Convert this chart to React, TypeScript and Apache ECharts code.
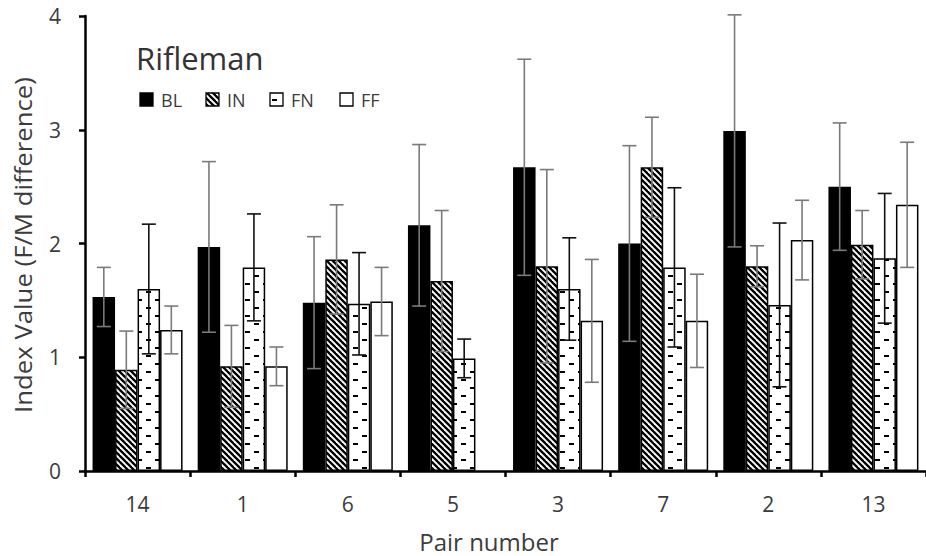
import React, { useEffect, useRef } from "react";
import * as echarts from "echarts";

// Pair numbers along the x axis
const categories = ["14", "1", "6", "5", "3", "7", "2", "13"];
const seriesNames = ["BL", "IN", "FN", "FF"];

// Mean index values per condition
const blValues = [1.53, 1.97, 1.48, 2.16, 2.67, 2.0, 2.99, 2.5];
const inValues = [0.89, 0.92, 1.86, 1.67, 1.8, 2.67, 1.8, 1.99];
const fnValues = [1.6, 1.79, 1.47, 0.99, 1.6, 1.79, 1.46, 1.87];
const ffValues = [1.24, 0.92, 1.49, null, 1.32, 1.32, 2.03, 2.34];

// Error bar half-lengths
const blErrors = [0.26, 0.75, 0.58, 0.71, 0.95, 0.86, 1.02, 0.56];
const inErrors = [0.34, 0.36, 0.48, 0.62, 0.85, 0.44, 0.18, 0.3];
const fnErrors = [0.57, 0.47, 0.45, 0.17, 0.45, 0.7, 0.72, 0.57];
const ffErrors = [0.21, 0.17, 0.3, null, 0.54, 0.41, 0.35, 0.55];

const yTicks = [0, 1, 2, 3, 4];

const TEXT = "#3c3c3c";
const BAR_W = 22.5;

function makeHatch() {
  const c = document.createElement("canvas");
  c.width = 6;
  c.height = 6;
  const g = c.getContext("2d")!;
  g.fillStyle = "#fff";
  g.fillRect(0, 0, 6, 6);
  g.strokeStyle = "#000";
  g.lineWidth = 2.3;
  for (let k = -1; k <= 1; k++) {
    g.beginPath();
    g.moveTo(k * 6 - 1, -1);
    g.lineTo(k * 6 + 7, 7);
    g.stroke();
  }
  return { image: c, repeat: "repeat", imageWidth: 6, imageHeight: 6 };
}

function makeDashes() {
  const c = document.createElement("canvas");
  c.width = 18;
  c.height = 16;
  const g = c.getContext("2d")!;
  g.fillStyle = "#fff";
  g.fillRect(0, 0, 18, 16);
  g.fillStyle = "#000";
  g.fillRect(2, 3, 5, 2);
  g.fillRect(11, 11, 5, 2);
  return { image: c, repeat: "repeat", imageWidth: 18, imageHeight: 16 };
}

export default function App() {
  const ref = useRef<HTMLDivElement>(null);

  useEffect(() => {
    if (!ref.current) return;
    const chart = echarts.init(ref.current, null, { renderer: "svg" });

    const hatch = makeHatch();
    const dashes = makeDashes();
    const fills: any[] = ["#000", hatch, dashes, "#fff"];
    const values = [blValues, inValues, fnValues, ffValues];
    const errors = [blErrors, inErrors, fnErrors, ffErrors];
    const errColors = ["#7a7a7a", "#7a7a7a", "#111", "#7a7a7a"];

    const barSeries = seriesNames.map((name, s) => ({
      name,
      type: "bar",
      data: values[s].map((v) => (v == null ? "-" : v)),
      barWidth: BAR_W,
      barGap: "0%",
      itemStyle: { color: fills[s], borderColor: "#000", borderWidth: 1.5 },
      z: 2,
    }));

    const errSeries = seriesNames.map((name, s) => {
      const data: number[][] = [];
      values[s].forEach((v, i) => {
        const e = errors[s][i];
        if (v != null && e != null) data.push([i, v - e, v + e]);
      });
      const offset = (s - 1.5) * BAR_W;
      return {
        name: name + " error",
        type: "custom",
        data,
        encode: { x: 0, y: [1, 2] },
        z: 5,
        renderItem: (_p: any, api: any) => {
          const idx = api.value(0);
          const lo = api.coord([idx, api.value(1)]);
          const hi = api.coord([idx, api.value(2)]);
          const x = lo[0] + offset;
          const style = { stroke: errColors[s], lineWidth: 1.6 };
          return {
            type: "group",
            children: [
              { type: "line", shape: { x1: x, y1: hi[1], x2: x, y2: lo[1] }, style },
              { type: "line", shape: { x1: x - 7, y1: hi[1], x2: x + 7, y2: hi[1] }, style },
              { type: "line", shape: { x1: x - 7, y1: lo[1], x2: x + 7, y2: lo[1] }, style },
            ],
          };
        },
      };
    });

    // Legend row under the title
    const legendIconX = [140, 206, 270, 340];
    const legendChildren: any[] = [];
    seriesNames.forEach((name, s) => {
      legendChildren.push({
        type: "rect",
        shape: { x: legendIconX[s], y: 93, width: 13, height: 13 },
        style: { fill: fills[s], stroke: "#000", lineWidth: 1.3 },
      });
      legendChildren.push({
        type: "text",
        style: {
          x: legendIconX[s] + 21,
          y: 100,
          text: name,
          fill: TEXT,
          font: '18px "Open Sans"',
          textVerticalAlign: "middle",
        },
      });
    });

    chart.setOption({
      animation: false,
      backgroundColor: "#fff",
      grid: { left: 85, top: 16, width: 845, height: 455 },
      xAxis: {
        type: "category",
        data: categories,
        boundaryGap: true,
        axisLine: { show: true, lineStyle: { color: "#000", width: 2.5 } },
        axisTick: { show: true, length: 6, lineStyle: { color: "#000", width: 2.5 } },
        axisLabel: {
          color: TEXT,
          fontSize: 21,
          fontFamily: "Open Sans",
          margin: 22,
        },
        splitLine: { show: false },
      },
      yAxis: {
        type: "value",
        min: yTicks[0],
        max: yTicks[yTicks.length - 1],
        interval: 1,
        axisLine: { show: true, lineStyle: { color: "#000", width: 2.5 } },
        axisTick: { show: true, length: 6, lineStyle: { color: "#000", width: 2.5 } },
        axisLabel: {
          color: TEXT,
          fontSize: 21,
          fontFamily: "Open Sans",
          margin: 24,
        },
        splitLine: { show: false },
      },
      graphic: [
        {
          type: "text",
          style: {
            x: 136,
            y: 58,
            text: "Rifleman",
            fill: "#333",
            font: '31px "Open Sans"',
            textVerticalAlign: "middle",
          },
        },
        ...legendChildren,
        {
          type: "text",
          x: 23,
          y: 245,
          rotation: Math.PI / 2,
          scaleX: 1.12,
          style: {
            text: "Index Value (F/M difference)",
            fill: TEXT,
            font: '23px "Open Sans"',
            textAlign: "center",
            textVerticalAlign: "middle",
          },
        },
        {
          type: "text",
          style: {
            x: 489,
            y: 541,
            text: "Pair number",
            fill: TEXT,
            font: '24px "Open Sans"',
            textAlign: "center",
            textVerticalAlign: "middle",
          },
        },
      ],
      series: [...barSeries, ...errSeries],
    });

    return () => chart.dispose();
  }, []);

  return (
    <div
      ref={ref}
      style={{ position: "fixed", left: 0, top: 0, width: 926, height: 556 }}
    />
  );
}
